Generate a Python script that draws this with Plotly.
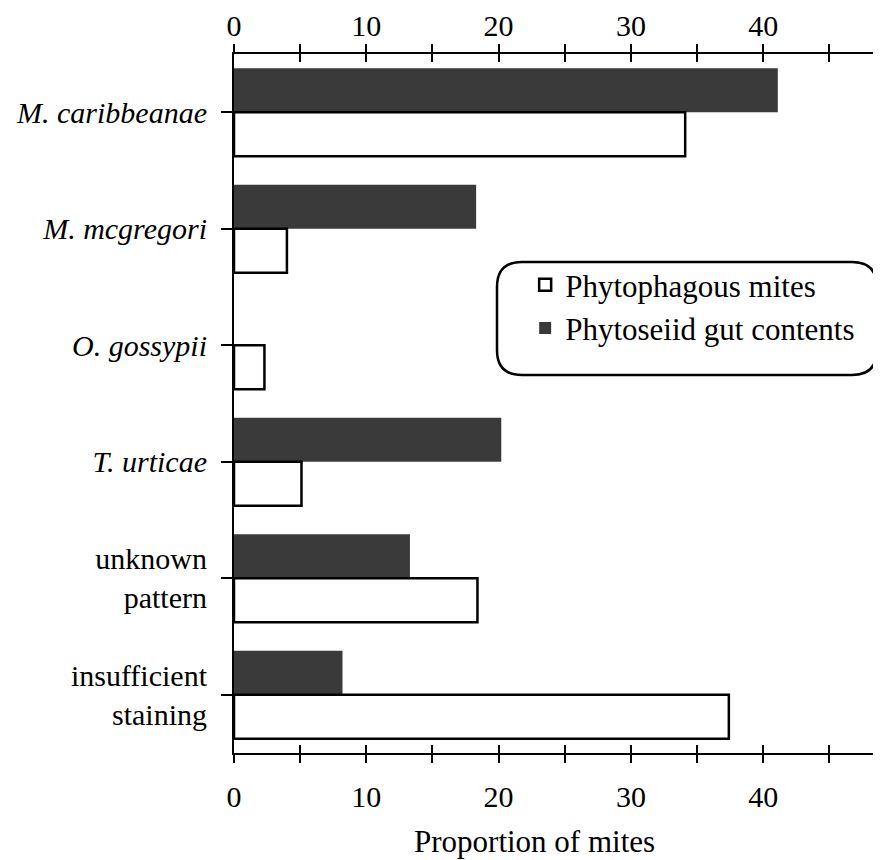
import plotly.graph_objects as go

# categories from top to bottom
categories = ["M. caribbeanae", "M. mcgregori", "O. gossypii", "T. urticae",
              "unknown pattern", "insufficient staining"]
cat_labels = ["<i>M. caribbeanae</i>", "<i>M. mcgregori</i>", "<i>O. gossypii</i>",
              "<i>T. urticae</i>", "unknown<br>pattern", "insufficient<br>staining"]
phytophagous = [34.1, 4.0, 2.3, 5.1, 18.4, 37.4]
gut_contents = [41.1, 18.3, 0.0, 20.2, 13.3, 8.2]
x_ticks = [0, 10, 20, 30, 40]

serif = "Liberation Serif, Times New Roman, Times, serif"

fig = go.Figure()
fig.add_trace(go.Bar(y=categories, x=gut_contents, orientation="h",
                     name="Phytoseiid gut contents", legendrank=2,
                     marker=dict(color="#3a3a3a", line=dict(width=0))))
fig.add_trace(go.Bar(y=categories, x=phytophagous, orientation="h",
                     name="Phytophagous mites", legendrank=1,
                     marker=dict(color="white", line=dict(color="black", width=2.5))))

xr = [0, 48.9]


def xax(ticks, side, labels):
    # top/bottom axis; inside+outside overlays give the crossing tick marks
    return dict(range=xr, tickvals=x_ticks, showline=True, linecolor="black", linewidth=2,
                ticks=ticks, side=side, tickcolor="black", tickwidth=2, ticklen=8,
                showgrid=False, zeroline=False, showticklabels=labels, automargin=False,
                tickfont=dict(size=30),
                minor=dict(dtick=5, ticklen=8, tickwidth=2, tickcolor="black", ticks=ticks))


bottom = xax("outside", "bottom", True)
bottom.update(ticklabelstandoff=8)
top = xax("outside", "top", True)
top.update(overlaying="x", matches="x", anchor="y", ticklabelstandoff=-4)
bottom_in = xax("inside", "bottom", False)
bottom_in.update(overlaying="x", matches="x", anchor="y")
top_in = xax("inside", "top", False)
top_in.update(overlaying="x", matches="x", anchor="y")

fig.update_layout(
    width=881, height=860,
    margin=dict(l=226, r=8, t=46, b=115),
    plot_bgcolor="white", paper_bgcolor="white",
    font=dict(family=serif, size=30, color="black"),
    barmode="group", bargap=0.245, bargroupgap=0,
    showlegend=True,
    xaxis=bottom, xaxis2=top, xaxis3=bottom_in, xaxis4=top_in,
    yaxis=dict(categoryorder="array", categoryarray=categories, autorange="reversed",
               tickvals=categories, ticktext=cat_labels, showline=True, linecolor="black",
               linewidth=2, ticks="outside", ticklen=11, tickwidth=2, tickcolor="black",
               showgrid=False, zeroline=False, tickfont=dict(size=30),
               ticklabelstandoff=8, automargin=False),
    legend=dict(x=0.45, y=0.708, xanchor="left", yanchor="top",
                bgcolor="rgba(0,0,0,0)", borderwidth=0,
                font=dict(size=31), tracegroupgap=0),
)

# x-axis title, placed like the original (slightly left of the axis centre)
fig.add_annotation(text="Proportion of mites", xref="paper", yref="paper",
                   x=0.465, y=0, xanchor="center", yanchor="middle", yshift=-88,
                   showarrow=False, font=dict(size=31))

# dummy traces so the overlay axes get drawn
for ax in ["x2", "x3", "x4"]:
    fig.add_trace(go.Scatter(x=[None], y=[None], xaxis=ax, yaxis="y",
                             showlegend=False, hoverinfo="skip"))

# rounded legend frame
x0, x1, y0, y1 = 0.4065, 0.9938, 0.5408, 0.7024
rx, ry = 0.0386, 0.0358
path = (f"M {x0+rx},{y0} L {x1-rx},{y0} Q {x1},{y0} {x1},{y0+ry} "
        f"L {x1},{y1-ry} Q {x1},{y1} {x1-rx},{y1} L {x0+rx},{y1} "
        f"Q {x0},{y1} {x0},{y1-ry} L {x0},{y0+ry} Q {x0},{y0} {x0+rx},{y0} Z")
fig.add_shape(type="path", path=path, xref="paper", yref="paper",
              line=dict(color="black", width=2.5), fillcolor="rgba(0,0,0,0)")

fig.write_html("out.html")
